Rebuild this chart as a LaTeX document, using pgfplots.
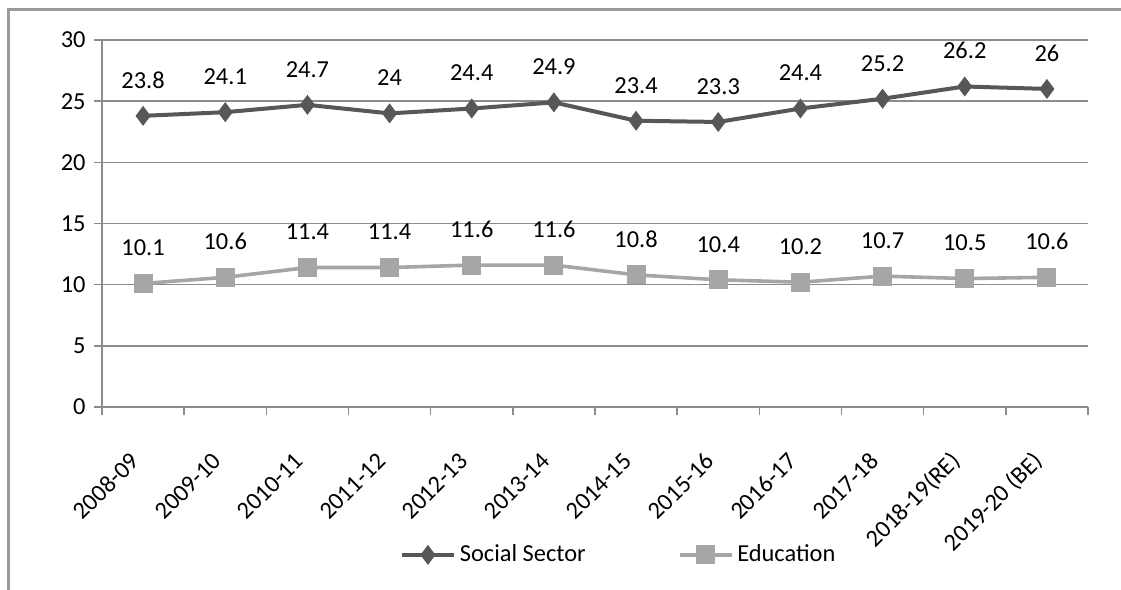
\documentclass[border=0pt]{standalone}
\usepackage{fontspec}
\setmainfont{Carlito}
\usepackage{pgfplots}
\pgfplotsset{compat=1.18}
\definecolor{ssc}{HTML}{575757}
\definecolor{edc}{HTML}{A6A6A6}
\definecolor{gridc}{HTML}{8C8C8C}
\definecolor{framec}{HTML}{9A9A9A}
\begin{document}
\fontsize{12}{14}\selectfont
\begin{tikzpicture}[font=\fontsize{12.2}{14}\selectfont]
\useasboundingbox (0,0) rectangle (560.5pt,295pt);
\draw[color=framec, line width=1.5pt] (4pt,0) -- (4pt,290pt) -- (561pt,290pt);
\begin{axis}[
  at={(51pt,91.5pt)}, anchor=south west,
  scale only axis, width=493pt, height=183.5pt,
  xmin=-0.5, xmax=11.5, ymin=0, ymax=30,
  ytick={0,5,...,30},
  xtick={-0.5,0.5,...,11.5},
  x tick label as interval,
  xticklabels={2008-09,2009-10,2010-11,2011-12,2012-13,2013-14,2014-15,2015-16,2016-17,2017-18,2018-19(RE),2019-20 (BE)},
  xticklabel style={xshift=-4pt, yshift=-21pt, rotate=45, anchor=east, inner sep=0pt, font=\fontsize{12.2}{14}\selectfont},
  yticklabel style={inner sep=0pt, xshift=-4pt},
  /pgf/number format/assume math mode=true,
  ymajorgrids, grid style={gridc, line width=0.7pt},
  axis x line*=bottom, axis y line*=left,
  axis line style={gridc, line width=0.8pt},
  tick style={gridc, line width=0.8pt},
  tick align=outside, major tick length=4pt,
  nodes near coords,
  every node near coord/.append style={anchor=south, inner sep=0pt, yshift=13.5pt, text=black},
  legend style={at={(0.525,-0.403)}, anchor=center, draw=none, fill=none,
    legend columns=2, /tikz/every even column/.append style={column sep=44pt}},
  legend cell align=left,
  legend image code/.code={\draw[mark repeat=2,mark phase=2] plot coordinates {(0pt,0pt) (13pt,0pt) (26pt,0pt)};},
]
\addplot[color=ssc, line width=2pt, mark=diamond*, mark size=4.6pt, mark options={line width=0.5pt, fill=ssc}]
  coordinates {(0,23.8) (1,24.1) (2,24.7) (3,24.0) (4,24.4) (5,24.9) (6,23.4) (7,23.3) (8,24.4) (9,25.2) (10,26.2) (11,26.0)};
\addlegendentry{Social Sector}
\addplot[color=edc, line width=1.8pt, mark=square*, mark size=4.5pt, mark options={line width=0.5pt, fill=edc}]
  coordinates {(0,10.1) (1,10.6) (2,11.4) (3,11.4) (4,11.6) (5,11.6) (6,10.8) (7,10.4) (8,10.2) (9,10.7) (10,10.5) (11,10.6)};
\addlegendentry{Education}
\end{axis}
\end{tikzpicture}
\end{document}
